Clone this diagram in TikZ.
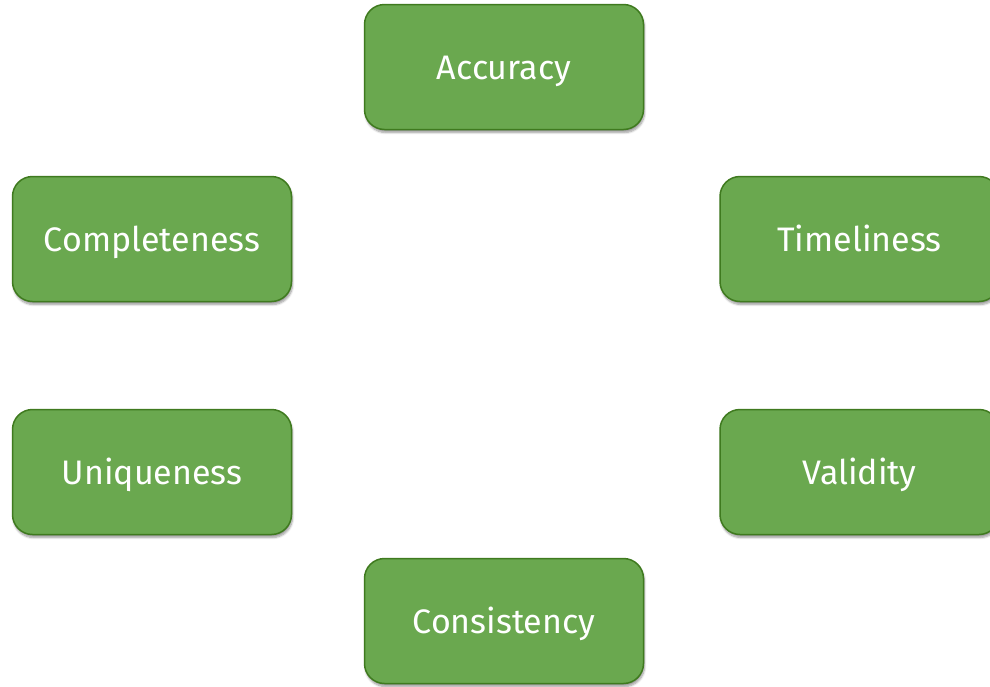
\documentclass[tikz,border=0pt]{standalone}
\usepackage{fontspec}
\setmainfont{Fira Sans}
\usetikzlibrary{shadows.blur}
\definecolor{boxfill}{HTML}{6AA84F}
\definecolor{boxline}{HTML}{3F7A1F}
\begin{document}
\begin{tikzpicture}[x=1pt,y=-1pt,
  qbox/.style={draw=boxline, line width=1.5pt, fill=boxfill, rounded corners=20pt,
    minimum width=279pt, minimum height=125pt, inner sep=0pt,
    text height=24pt, text depth=0pt,
    text=white, font=\fontsize{34}{40}\selectfont,
    blur shadow={shadow xshift=1pt, shadow yshift=-3pt, shadow blur steps=6, shadow opacity=40}}]
\useasboundingbox (0,0) rectangle (990,686);
\node[qbox] (acc) at (504,67) {Accuracy};
\node[qbox] (com) at (152,239) {Completeness};
\node[qbox] (tim) at (859.5,239) {Timeliness};
\node[qbox] (uni) at (152,472) {Uniqueness};
\node[qbox] (val) at (859.5,472) {Validity};
\node[qbox] (con) at (504,621) {Consistency};
\end{tikzpicture}
\end{document}
